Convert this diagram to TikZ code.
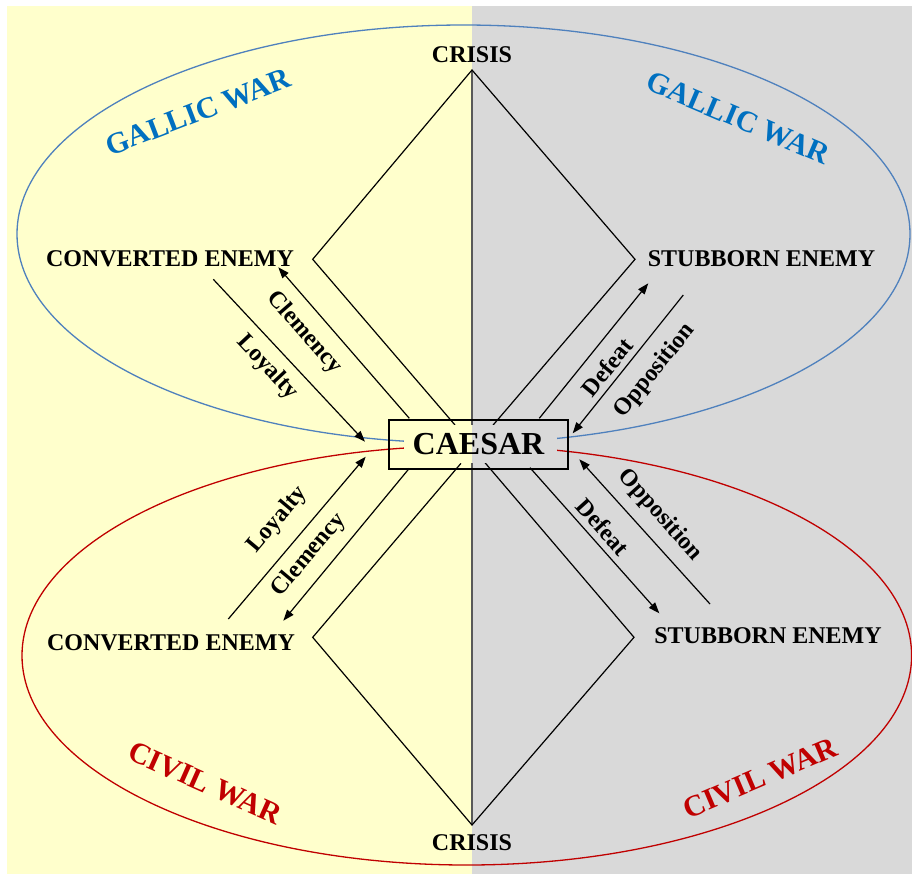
\documentclass[tikz,border=0pt]{standalone}
\usepackage{fontspec}
\setmainfont{Liberation Serif}
\usetikzlibrary{arrows.meta}
\definecolor{bgyellow}{HTML}{FFFFCC}
\definecolor{bggray}{HTML}{D9D9D9}
\definecolor{gallicblue}{HTML}{0070C0}
\definecolor{gallicline}{HTML}{4F81BD}
\definecolor{civilred}{HTML}{C00000}
\definecolor{axisgray}{HTML}{595959}
\begin{document}
\begin{tikzpicture}[x=1pt,y=-1pt,
  lbl/.style={font=\fontsize{24}{24}\selectfont\bfseries, inner sep=0pt},
  wartitle/.style={font=\fontsize{30}{30}\selectfont\bfseries, inner sep=0pt},
  link/.style={draw=black, line width=1.2pt},
  flow/.style={link, -{Triangle[length=11pt,width=8pt]}},
  ring/.style={line width=1.3pt},
]
\useasboundingbox (0,0) rectangle (912,876);
\fill[white] (0,0) rectangle (912,876);
% two halves of the backdrop
\fill[bgyellow] (7,6) rectangle (472,874);
\fill[bggray] (472,6) rectangle (912,874);

% war ellipses
\draw[gallicline, ring] (463.5,234) ellipse [x radius=446.5, y radius=209];
\draw[civilred, ring] (466.8,655.5) ellipse [x radius=444.8, y radius=209.5];

% corner points of the two diamonds
\coordinate (topapex) at (472,70);
\coordinate (botapex) at (472,825);
\coordinate (ulv) at (312.7,259.3);
\coordinate (urv) at (635,259.3);
\coordinate (llv) at (312.7,637.3);
\coordinate (lrv) at (634,637.3);
\coordinate (ulend) at (455,425);
\coordinate (urend) at (492.3,426);
\coordinate (llend) at (461,463.3);
\coordinate (lrend) at (485,462.7);

% central axis
\draw[axisgray, line width=1.5pt] (topapex) -- (botapex);

% diamonds
\draw[link] (ulend) -- (ulv) -- (topapex) -- (urv) -- (urend);
\draw[link] (llend) -- (llv) -- (botapex) -- (lrv) -- (lrend);

% arrow end points
\coordinate (loyUs) at (213.3,279.3);  \coordinate (loyUt) at (365,441.7);
\coordinate (cleUs) at (409.3,418.3);  \coordinate (cleUt) at (278.3,267.3);
\coordinate (defUs) at (539.3,418.3);  \coordinate (defUt) at (648.3,283.3);
\coordinate (oppUs) at (683.3,295);    \coordinate (oppUt) at (572.7,433.3);
\coordinate (loyLs) at (228.3,619);    \coordinate (loyLt) at (365.7,456.7);
\coordinate (cleLs) at (409.3,468.3);  \coordinate (cleLt) at (283.3,620.7);
\coordinate (defLs) at (530,467.7);    \coordinate (defLt) at (659.3,613.3);
\coordinate (oppLs) at (710,604);      \coordinate (oppLt) at (579.3,459.3);

\draw[flow] (loyUs) -- (loyUt);
\draw[flow] (cleUs) -- (cleUt);
\draw[flow] (defUs) -- (defUt);
\draw[flow] (oppUs) -- (oppUt);
\draw[flow] (loyLs) -- (loyLt);
\draw[flow] (cleLs) -- (cleLt);
\draw[flow] (defLs) -- (defLt);
\draw[flow] (oppLs) -- (oppLt);

% clear the area behind the central name
\fill[bgyellow] (404,425) rectangle (472,463);
\fill[bggray] (472,425) rectangle (557,463);
\node[draw, line width=1.2pt, minimum width=179pt, minimum height=49pt,
      inner sep=0pt, font=\fontsize{32}{32}\selectfont\bfseries] (caesar) at (478.5,444.5) {CAESAR};

% state labels
\node[lbl] (crisisT) at (472,55) {CRISIS};
\node[lbl] (crisisB) at (472,843) {CRISIS};
\node[lbl] (convU) at (170,259) {CONVERTED ENEMY};
\node[lbl] (convL) at (171,643) {CONVERTED ENEMY};
\node[lbl] (stubU) at (761.5,259) {STUBBORN ENEMY};
\node[lbl] (stubL) at (768,636) {STUBBORN ENEMY};

% arrow labels
\node[lbl, rotate=-47] (loyUl) at (267.5,367.5) {Loyalty};
\node[lbl, rotate=-49] (cleUl) at (304,332.5) {Clemency};
\node[lbl, rotate=51] (defUl) at (607,367) {Defeat};
\node[lbl, rotate=51] (oppUl) at (655,371) {Opposition};
\node[lbl, rotate=50] (loyLl) at (277.5,520) {Loyalty};
\node[lbl, rotate=50] (cleLl) at (309,555) {Clemency};
\node[lbl, rotate=-48] (defLl) at (603,527) {Defeat};
\node[lbl, rotate=-48] (oppLl) at (660,515) {Opposition};

% war titles
\node[wartitle, text=gallicblue, rotate=21] (gallicL) at (198,112) {GALLIC WAR};
\node[wartitle, text=gallicblue, rotate=-23] (gallicR) at (738,118) {GALLIC WAR};
\node[wartitle, text=civilred, rotate=-24] (civilL) at (205,783) {CIVIL WAR};
\node[wartitle, text=civilred, rotate=23] (civilR) at (760,778) {CIVIL WAR};
\end{tikzpicture}
\end{document}
